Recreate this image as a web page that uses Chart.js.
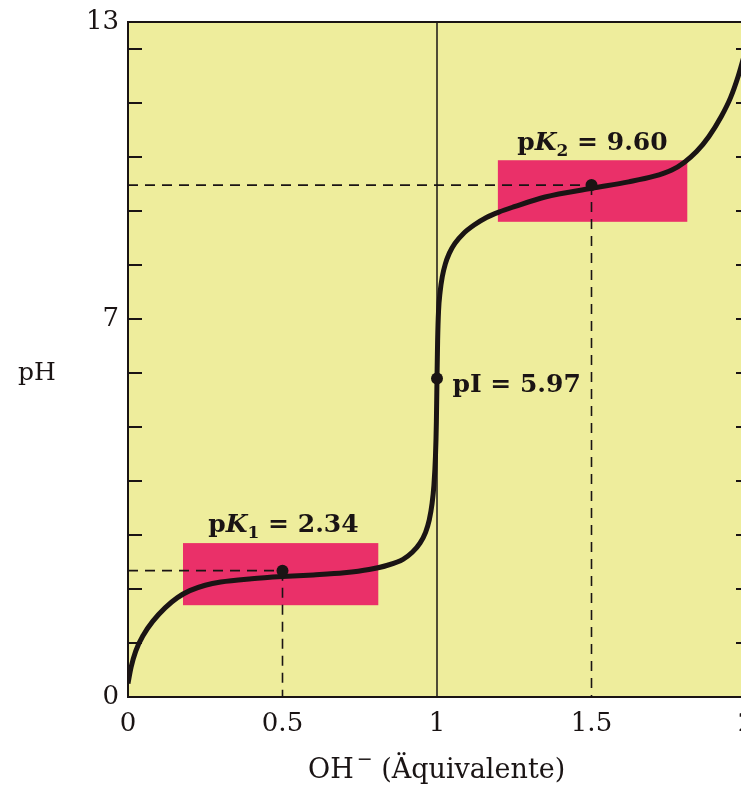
<!DOCTYPE html>
<html>
<head>
<meta charset="utf-8">
<script src="https://cdn.jsdelivr.net/npm/chart.js@4/dist/chart.umd.min.js"></script>
<style>
  html, body { margin: 0; padding: 0; background: #fff; overflow: hidden; }
  #wrap { width: 760px; height: 792px; }
</style>
</head>
<body>
<div id="wrap"><canvas id="grafico" width="760" height="792"></canvas></div>
<script>
// Titrationskurve
const curvaEq = [0.000, 0.010, 0.025, 0.050, 0.080, 0.120, 0.160, 0.200, 0.250, 0.300, 0.400, 0.500, 0.600, 0.700, 0.780, 0.840, 0.890, 0.920, 0.945, 0.963, 0.975, 0.984, 0.990, 0.995, 0.998, 1.000, 1.002, 1.005, 1.010, 1.017, 1.027, 1.040, 1.058, 1.085, 1.120, 1.160, 1.200, 1.250, 1.350, 1.500, 1.620, 1.700, 1.760, 1.800, 1.840, 1.880, 1.920, 1.950, 1.975, 2.000];
const curvaPH = [0.25, 0.55, 0.85, 1.15, 1.40, 1.65, 1.84, 1.97, 2.07, 2.13, 2.19, 2.23, 2.26, 2.30, 2.36, 2.44, 2.55, 2.68, 2.85, 3.05, 3.28, 3.58, 3.92, 4.45, 5.10, 5.90, 6.60, 7.15, 7.50, 7.78, 8.02, 8.22, 8.40, 8.58, 8.74, 8.88, 8.98, 9.08, 9.26, 9.42, 9.54, 9.64, 9.76, 9.90, 10.10, 10.38, 10.75, 11.10, 11.50, 12.00];

const puntosEq = [0.5, 1.0, 1.5];
const puntosPH = [2.34, 5.90, 9.48];

const cajaEq = [[0.178, 0.81], [1.197, 1.81]];
const cajaPH = [[1.70, 2.85], [8.80, 9.94]];

const ticksX = [0, 0.5, 1, 1.5, 2];
const textoTicksX = ['0', '0.5', '1', '1.5', '2'];
const ticksY = [0, 7, 12.5];
const textoTicksY = ['0', '7', '13'];
const marcasY = [1, 2, 3, 4, 5, 6, 7, 8, 9, 10, 11, 12];

const AMARILLO = '#eeed9c';
const ROSA = '#ea3069';
const NEGRO = '#1a1414';
const FUENTE = '"DejaVu Serif", serif';

const curva = curvaEq.map((x, i) => ({ x: x, y: curvaPH[i] }));
const puntos = puntosEq.map((x, i) => ({ x: x, y: puntosPH[i] }));

const guias = [
  [{ x: 0, y: puntosPH[0] }, { x: puntosEq[0], y: puntosPH[0] }],
  [{ x: puntosEq[0], y: puntosPH[0] }, { x: puntosEq[0], y: 0 }],
  [{ x: 0, y: puntosPH[2] }, { x: puntosEq[2], y: puntosPH[2] }],
  [{ x: puntosEq[2], y: puntosPH[2] }, { x: puntosEq[2], y: 0 }]
];

const fondo = {
  id: 'fondo',
  beforeDatasetsDraw(chart) {
    const { ctx, chartArea: a, scales: { x, y } } = chart;
    ctx.save();
    ctx.fillStyle = AMARILLO;
    ctx.fillRect(a.left, a.top, a.right - a.left, a.bottom - a.top);
    ctx.fillStyle = ROSA;
    cajaEq.forEach((c, i) => {
      const x0 = x.getPixelForValue(c[0]), x1 = x.getPixelForValue(c[1]);
      const y0 = y.getPixelForValue(cajaPH[i][1]), y1 = y.getPixelForValue(cajaPH[i][0]);
      ctx.fillRect(x0, y0, x1 - x0, y1 - y0);
    });
    // senkrechte Linie bei 1 Äquivalent
    ctx.strokeStyle = NEGRO;
    ctx.lineWidth = 1.5;
    const xm = x.getPixelForValue(1);
    ctx.beginPath();
    ctx.moveTo(xm, a.top);
    ctx.lineTo(xm, a.bottom);
    ctx.stroke();
    // Striche innen
    ctx.lineWidth = 2;
    marcasY.forEach(v => {
      const py = y.getPixelForValue(v);
      ctx.beginPath();
      ctx.moveTo(a.left, py);
      ctx.lineTo(a.left + 14, py);
      ctx.moveTo(a.right, py);
      ctx.lineTo(a.right - 10, py);
      ctx.stroke();
    });
    ctx.restore();
  },
  afterDraw(chart) {
    const { ctx, chartArea: a, scales: { x, y } } = chart;
    ctx.save();
    ctx.strokeStyle = NEGRO;
    ctx.lineWidth = 2;
    ctx.strokeRect(a.left, a.top, a.right - a.left, a.bottom - a.top);

    ctx.fillStyle = NEGRO;
    ctx.textBaseline = 'alphabetic';
    ctx.textAlign = 'left';

    function pk(px, py, sub, valor) {
      let cx = px;
      ctx.font = 'bold 25px ' + FUENTE;
      ctx.fillText('p', cx, py); cx += ctx.measureText('p').width;
      ctx.font = 'italic bold 25px ' + FUENTE;
      ctx.fillText('K', cx, py); cx += ctx.measureText('K').width;
      ctx.font = 'bold 17px ' + FUENTE;
      ctx.fillText(sub, cx, py + 6); cx += ctx.measureText(sub).width;
      ctx.font = 'bold 25px ' + FUENTE;
      ctx.fillText(' = ' + valor, cx, py);
    }
    pk(x.getPixelForValue(0.26), y.getPixelForValue(3.06), '1', '2.34');
    pk(x.getPixelForValue(1.26), y.getPixelForValue(10.13), '2', '9.60');
    ctx.font = 'bold 25px ' + FUENTE;
    ctx.fillText('pI = 5.97', x.getPixelForValue(1.05), y.getPixelForValue(5.65));

    // Achsentitel
    ctx.font = '25px ' + FUENTE;
    ctx.fillText('pH', 18, 380);
    let cx = 308;
    ctx.font = '27px ' + FUENTE;
    ctx.fillText('OH', cx, 778); cx += ctx.measureText('OH').width + 3;
    ctx.font = '19px ' + FUENTE;
    ctx.fillText('\u2212', cx, 765); cx += ctx.measureText('\u2212').width;
    ctx.font = '27px ' + FUENTE;
    ctx.fillText(' (Äquivalente)', cx, 778);
    ctx.restore();
  }
};

new Chart(document.getElementById('grafico'), {
  type: 'line',
  data: {
    datasets: [
      { data: puntos, showLine: false, pointRadius: 6, pointBackgroundColor: NEGRO, pointBorderWidth: 0 },
      { data: curva, borderColor: NEGRO, borderWidth: 5, pointRadius: 0, cubicInterpolationMode: 'monotone', fill: false },
      ...guias.map(g => ({ data: g, borderColor: NEGRO, borderWidth: 1.6, borderDash: [10, 7], pointRadius: 0, fill: false }))
    ]
  },
  options: {
    responsive: false,
    animation: false,
    devicePixelRatio: 1,
    layout: { padding: { left: 0, top: 22, right: 14, bottom: 0 } },
    plugins: { legend: { display: false }, tooltip: { enabled: false } },
    scales: {
      x: {
        type: 'linear', min: 0, max: 2,
        grid: { display: false, drawTicks: false }, border: { display: false },
        afterBuildTicks: s => { s.ticks = ticksX.map(v => ({ value: v })); },
        afterFit: s => { s.height = 95; s.paddingLeft = 0; s.paddingRight = 0; },
        ticks: {
          autoSkip: false, maxRotation: 0, padding: 12, color: NEGRO,
          font: { family: FUENTE, size: 26 },
          callback: (v, i) => textoTicksX[i]
        }
      },
      y: {
        type: 'linear', min: 0, max: 12.5,
        grid: { display: false, drawTicks: false }, border: { display: false },
        afterBuildTicks: s => { s.ticks = ticksY.map(v => ({ value: v })); },
        afterFit: s => { s.width = 128; s.paddingTop = 0; s.paddingBottom = 0; },
        ticks: {
          autoSkip: false, padding: 9, color: NEGRO,
          font: { family: FUENTE, size: 26 },
          callback: (v, i) => textoTicksY[i]
        }
      }
    }
  },
  plugins: [fondo]
});
</script>
</body>
</html>
